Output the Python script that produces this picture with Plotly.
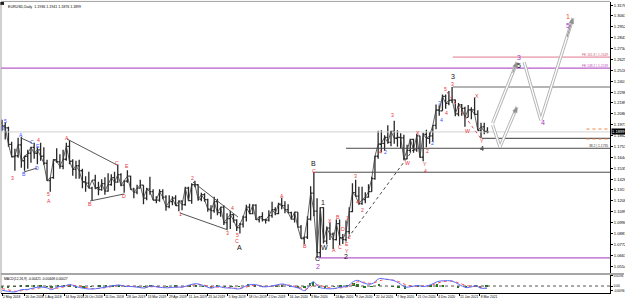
import numpy as np
import pandas as pd
import plotly.graph_objects as go

START = "2018-05-02"
FONT = "Liberation Sans, Arial, sans-serif"

# ---------------- weekly EURUSD price data ----------------
wk_high = [
    1.2020, 1.1995, 1.1950, 1.1800, 1.1730, 1.1840, 1.1850, 1.1660, 1.1720,
    1.1750, 1.1790, 1.1745, 1.1790,
    1.1745, 1.1620, 1.1440, 1.1625, 1.1735,
    1.1675, 1.1720, 1.1790, 1.1815,
    1.1625, 1.1610, 1.1620, 1.1530,
    1.1455, 1.1500, 1.1350, 1.1470, 1.1400,
    1.1425, 1.1445, 1.1485, 1.1475,
    # 2019
    1.1500, 1.1570, 1.1485, 1.1415,
    1.1515, 1.1460, 1.1340, 1.1370,
    1.1420, 1.1365, 1.1340, 1.1450, 1.1325,
    1.1255, 1.1325, 1.1325, 1.1265,
    1.1265, 1.1255, 1.1265, 1.1215, 1.1215,
    1.1350, 1.1350, 1.1385, 1.1410,
    1.1375, 1.1290, 1.1285, 1.1230,
    1.1165, 1.1250, 1.1230, 1.1150, 1.1165,
    1.1085, 1.1110, 1.1075, 1.1025,
    1.0985, 1.1060, 1.1170, 1.1180,
    1.1175, 1.1175, 1.1050, 1.1095, 1.1030,
    1.1115, 1.1200, 1.1145, 1.1190,
    # 2020
    1.1240, 1.1205, 1.1175, 1.1100, 1.1100,
    1.1095, 1.0965, 1.0850, 1.1055,
    1.1355, 1.1495, 1.1235, 1.1145,
    1.1145, 1.0950, 1.0990, 1.0890,
    1.1020, 1.1020, 1.0875, 1.1010, 1.1145,
    1.1385, 1.1420, 1.1350, 1.1350,
    1.1295, 1.1375, 1.1450, 1.1660, 1.1910,
    1.1915, 1.1865, 1.1965, 1.1910,
    1.2010, 1.1915, 1.1885, 1.1870,
    1.1770, 1.1830, 1.1830, 1.1880, 1.1860,
    1.1890, 1.1920, 1.1895, 1.1965,
    1.2175, 1.2165, 1.2275, 1.2275,
    # 2021
    1.2310, 1.2350, 1.2225, 1.2190, 1.2180,
    1.2150, 1.2170, 1.2145, 1.2245,
    1.2115, 1.1990, 1.1990, 1.1945,
]
wk_low = [
    1.1910, 1.1823, 1.1750, 1.1645, 1.1510, 1.1640, 1.1540, 1.1510, 1.1530,
    1.1590, 1.1630, 1.1575, 1.1610,
    1.1570, 1.1410, 1.1300, 1.1430, 1.1590,
    1.1530, 1.1525, 1.1610, 1.1575,
    1.1460, 1.1430, 1.1430, 1.1335,
    1.1300, 1.1335, 1.1215, 1.1325, 1.1265,
    1.1310, 1.1270, 1.1300, 1.1360,
    # 2019
    1.1310, 1.1390, 1.1355, 1.1290,
    1.1390, 1.1320, 1.1235, 1.1275,
    1.1335, 1.1175, 1.1215, 1.1270, 1.1215,
    1.1185, 1.1200, 1.1225, 1.1110,
    1.1135, 1.1165, 1.1160, 1.1105, 1.1115,
    1.1160, 1.1205, 1.1180, 1.1345,
    1.1210, 1.1205, 1.1200, 1.1100,
    1.1025, 1.1090, 1.1065, 1.1050, 1.0965,
    1.0925, 1.0925, 1.0990, 1.0905,
    1.0880, 1.0940, 1.1000, 1.1075,
    1.1075, 1.1015, 1.0990, 1.1000, 1.0980,
    1.1000, 1.1040, 1.1065, 1.1075,
    # 2020
    1.1125, 1.1085, 1.1085, 1.1020, 1.0990,
    1.0940, 1.0830, 1.0775, 1.0825,
    1.1010, 1.1055, 1.0635, 1.0635,
    1.0780, 1.0770, 1.0815, 1.0725,
    1.0810, 1.0765, 1.0775, 1.0800, 1.0870,
    1.1095, 1.1250, 1.1170, 1.1170,
    1.1185, 1.1240, 1.1300, 1.1420, 1.1630,
    1.1695, 1.1710, 1.1780, 1.1755,
    1.1780, 1.1750, 1.1735, 1.1615,
    1.1625, 1.1690, 1.1690, 1.1700, 1.1640,
    1.1605, 1.1745, 1.1780, 1.1800,
    1.1925, 1.2060, 1.2110, 1.2130,
    # 2021
    1.2165, 1.2190, 1.2055, 1.2055, 1.2060,
    1.1950, 1.2045, 1.2025, 1.2070,
    1.1915, 1.1835, 1.1875, 1.1885,
]
wk_close = [
    1.1960, 1.1940, 1.1775, 1.1650, 1.1660, 1.1770, 1.1610, 1.1655, 1.1685,
    1.1745, 1.1685, 1.1720, 1.1655,
    1.1585, 1.1410, 1.1440, 1.1620, 1.1600,
    1.1555, 1.1625, 1.1755, 1.1605,
    1.1525, 1.1560, 1.1510, 1.1400,
    1.1385, 1.1335, 1.1415, 1.1340, 1.1320,
    1.1380, 1.1305, 1.1370, 1.1440,
    # 2019
    1.1395, 1.1470, 1.1365, 1.1405,
    1.1455, 1.1325, 1.1295, 1.1335,
    1.1365, 1.1235, 1.1325, 1.1300, 1.1215,
    1.1215, 1.1300, 1.1245, 1.1150,
    1.1200, 1.1235, 1.1160, 1.1205, 1.1170,
    1.1335, 1.1210, 1.1370, 1.1370,
    1.1225, 1.1270, 1.1220, 1.1125,
    1.1110, 1.1200, 1.1090, 1.1145, 1.0990,
    1.1030, 1.1070, 1.1015, 1.0940,
    1.0975, 1.1045, 1.1145, 1.1080,
    1.1165, 1.1020, 1.1050, 1.1020, 1.1015,
    1.1060, 1.1120, 1.1080, 1.1175,
    # 2020
    1.1160, 1.1120, 1.1090, 1.1025, 1.1095,
    1.0945, 1.0830, 1.0845, 1.1025,
    1.1285, 1.1105, 1.0690, 1.1140,
    1.0805, 1.0935, 1.0875, 1.0820,
    1.0980, 1.0840, 1.0820, 1.0900, 1.1100,
    1.1290, 1.1255, 1.1180, 1.1220,
    1.1245, 1.1300, 1.1430, 1.1655, 1.1775,
    1.1785, 1.1845, 1.1795, 1.1905,
    1.1835, 1.1845, 1.1840, 1.1630,
    1.1715, 1.1825, 1.1720, 1.1860, 1.1645,
    1.1875, 1.1835, 1.1860, 1.1965,
    1.2120, 1.2110, 1.2255, 1.2185,
    # 2021
    1.2215, 1.2220, 1.2080, 1.2170, 1.2135,
    1.2045, 1.2120, 1.2120, 1.2075,
    1.1915, 1.1950, 1.1905, 1.1899,
]
wk_first_open = 1.1990

# ---------------- MACD(12,26,9) readings ----------------
macd_dates = [
    "2018-05-02", "2018-05-16", "2018-05-30", "2018-06-13", "2018-06-27", "2018-07-11",
    "2018-07-25", "2018-08-08", "2018-08-17", "2018-08-31", "2018-09-14", "2018-09-26",
    "2018-10-10", "2018-10-26", "2018-11-13", "2018-11-30", "2018-12-14", "2018-12-31",
    "2019-01-11", "2019-01-25", "2019-02-08", "2019-02-22", "2019-03-08", "2019-03-21",
    "2019-04-05", "2019-04-26", "2019-05-15", "2019-05-30", "2019-06-14", "2019-06-28",
    "2019-07-15", "2019-07-31", "2019-08-14", "2019-08-30", "2019-09-13", "2019-10-01",
    "2019-10-21", "2019-11-05", "2019-11-20", "2019-12-04", "2019-12-20",
    "2020-01-02", "2020-01-20", "2020-02-06", "2020-02-20", "2020-03-03", "2020-03-10",
    "2020-03-23", "2020-04-06", "2020-04-24", "2020-05-08", "2020-05-22", "2020-06-05",
    "2020-06-15", "2020-06-30", "2020-07-15", "2020-07-31", "2020-08-14", "2020-08-31",
    "2020-09-11", "2020-09-25", "2020-10-09", "2020-10-23", "2020-11-04", "2020-11-20",
    "2020-12-04", "2020-12-17",
    "2021-01-06", "2021-01-20", "2021-02-05", "2021-02-19", "2021-02-26", "2021-03-09",
    "2021-03-23",
]
macd_main = [
    -0.0080, -0.0105, -0.0115, -0.0070, -0.0065, -0.0035, -0.0020, -0.0035, -0.0070,
    -0.0015, -0.0005, 0.0030, -0.0010, -0.0045, -0.0060, -0.0040, -0.0020, 0.0005,
    0.0020, -0.0005, -0.0010, -0.0025, -0.0040, 0.0000, -0.0020, -0.0035, -0.0020,
    -0.0020, 0.0020, 0.0045, 0.0010, -0.0040, -0.0010, -0.0035, -0.0040, -0.0055,
    0.0020, 0.0030, -0.0015, -0.0010, 0.0020,
    0.0040, 0.0000, -0.0040, -0.0090, 0.0020, 0.0085, -0.0020, -0.0050, -0.0050,
    -0.0020, -0.0005, 0.0090, 0.0110, 0.0050, 0.0040, 0.0145, 0.0130, 0.0110,
    0.0060, -0.0020, -0.0010, 0.0010, -0.0010, 0.0025, 0.0085, 0.0100,
    0.0095, 0.0035, -0.0030, -0.0010, 0.0010, -0.0040, -0.0042,
]
macd_signal = [
    -0.0050, -0.0075, -0.0100, -0.0090, -0.0070, -0.0055, -0.0035, -0.0030, -0.0045,
    -0.0040, -0.0015, 0.0010, 0.0010, -0.0020, -0.0050, -0.0045, -0.0030, -0.0005,
    0.0010, 0.0005, -0.0005, -0.0020, -0.0030, -0.0015, -0.0015, -0.0025, -0.0025,
    -0.0020, 0.0005, 0.0030, 0.0020, -0.0015, -0.0020, -0.0025, -0.0035, -0.0045,
    -0.0010, 0.0020, 0.0000, -0.0010, 0.0005,
    0.0025, 0.0015, -0.0020, -0.0060, -0.0030, 0.0010, 0.0020, -0.0020, -0.0045,
    -0.0035, -0.0015, 0.0040, 0.0080, 0.0070, 0.0050, 0.0100, 0.0130, 0.0115,
    0.0085, 0.0030, 0.0000, 0.0000, 0.0000, 0.0010, 0.0055, 0.0085,
    0.0095, 0.0060, 0.0010, -0.0010, -0.0005, -0.0020, -0.0045,
]
macd_hist = [
    -0.0030, -0.0030, -0.0015, 0.0020, 0.0005, 0.0020, 0.0015, -0.0005, -0.0025,
    0.0025, 0.0010, 0.0020, -0.0020, -0.0025, -0.0010, 0.0005, 0.0010, 0.0010,
    0.0010, -0.0010, -0.0005, -0.0005, -0.0010, 0.0015, -0.0005, -0.0010, 0.0005,
    0.0000, 0.0015, 0.0015, -0.0010, -0.0025, 0.0010, -0.0010, -0.0005, -0.0010,
    0.0030, 0.0010, -0.0015, 0.0000, 0.0015,
    0.0015, -0.0015, -0.0020, -0.0030, 0.0050, 0.0075, -0.0040, -0.0030, -0.0005,
    0.0015, 0.0010, 0.0050, 0.0030, -0.0020, -0.0010, 0.0045, 0.0000, -0.0005,
    -0.0025, -0.0050, -0.0010, 0.0010, -0.0010, 0.0015, 0.0030, 0.0015,
    0.0000, -0.0025, -0.0040, 0.0000, 0.0015, -0.0020, 0.0003,
]

# ---------------- axis labels ----------------
date_ticks = [
    "2018-05-02", "2018-06-20", "2018-08-01", "2018-09-14", "2018-10-26", "2018-12-11",
    "2019-01-28", "2019-03-13", "2019-04-29", "2019-06-11", "2019-07-23", "2019-09-05",
    "2019-10-18", "2019-12-02", "2020-01-16", "2020-03-03", "2020-04-24", "2020-06-09",
    "2020-07-22", "2020-09-07", "2020-10-21", "2020-12-04", "2021-01-21", "2021-03-08",
]
price_ticks = [1.3170, 1.3061, 1.2952, 1.2843, 1.2734, 1.2625, 1.2516, 1.2407, 1.2298,
               1.2189, 1.2080, 1.1971, 1.1862, 1.1753, 1.1644, 1.1535, 1.1426, 1.1317,
               1.1208, 1.1099, 1.0990, 1.0881, 1.0772, 1.0663, 1.0554]
macd_ticks = [0.0194, 0.0, -0.0096]
macd_tick_text = ["0.0194", "0.00", "-0.0096"]
current_price = 1.1899
title_text = "EURUSD,Daily  1.1936 1.1941 1.1876 1.1899"
macd_text = "MACD(12,26,9) -0.00421 -0.00448 0.00027"

# ---------------- wave labels (bar index, price) ----------------
red_text = ["3", "4", "5", "A", "A", "B", "C", "D", "E", "1", "2", "3", "4", "5", "C",
            "A", "B", "C", "X", "B", "A", "C", "D", "E", "Y", "1", "2", "3", "4", "2",
            "4", "3", "W", "X", "Y", "4", "2", "4", "5", "3", "X", "W", "Y"]
red_bar = [17, 56, 71.5, 73, 101, 137, 179, 190, 194, 277, 297, 350, 358, 366, 366,
           435, 471, 484.5, 510, 522.5, 516, 526, 530, 536, 536, 538, 541, 550.5, 553, 560,
           588, 607, 630, 647, 658, 658, 662.5, 692, 689, 701, 738.7, 724.7, 746.5]
red_price = [1.1437, 1.1818, 1.1277, 1.1207, 1.1838, 1.1177, 1.1587, 1.1257, 1.1557, 1.1076,
             1.1437, 1.0886, 1.1137, 1.0861, 1.0801,
             1.1257, 1.0756, 1.1505, 1.1006, 1.1046, 1.0712, 1.0742, 1.0926, 1.0772, 1.0702,
             1.1036, 1.0846, 1.1457, 1.1195, 1.1117,
             1.1698, 1.2068, 1.1588, 1.1889, 1.1582, 1.1512, 1.1708, 1.2088, 1.2329, 1.2379,
             1.2259, 1.1908, 1.1808]

blue_text = ["5", "3", "A", "B", "C", "D", "E", "2", "3", "4", "2"]
blue_bar = [4.7, 1.6, 29.5, 34, 46.7, 54.4, 56, 597, 681, 683, 670]
blue_price = [1.2008, 1.1938, 1.1868, 1.1477, 1.1798, 1.1537, 1.1760, 1.1698, 1.2189, 1.2018, 1.1788]

black_text = ["A", "B", "C", "1", "W", "2", "3", "4", "5"]
black_bar = [370, 483.7, 491.4, 499, 502, 535, 701, 746.5, 804]
black_price = [1.0736, 1.1580, 1.0626, 1.1187, 1.0736, 1.0646, 1.2452, 1.1732, 1.2569]

purple_text = ["2", "3", "4", "5"]
purple_bar = [491.4, 804, 841, 880]
purple_price = [1.0550, 1.2645, 1.1998, 1.2970]

orange_text = ["1"]
orange_bar = [880]
orange_price = [1.3055]

# ---------------- trend lines (bar pairs, price pairs) ----------------
trend_bars = [[29.5, 46.7], [34, 54.4], [101, 179], [137, 190], [297, 367], [277, 351.5]]
trend_prices = [[1.1838, 1.1788], [1.1497, 1.1537], [1.1828, 1.1567], [1.1207, 1.1277],
                [1.1397, 1.1046], [1.1086, 1.0916]]
dot_black_bars = [538, 639]
dot_black_prices = [1.0836, 1.1718]
dot_red_bars = [692, 746.5]
dot_red_prices = [1.2299, 1.1818]

# ---------------- horizontal levels ----------------
XMIN, XMAX = -1.6, 945.6
lvl_price = [1.2539, 1.2649, 1.2349, current_price, 1.1835, 1.1735, 1.1495, 1.0636]
lvl_start = [XMIN, 701, 701, XMIN, 746.5, 535, 483.7, 491.4]
lvl_color = ["#b85ccc", "#e0788e", "#6a6a6a", "#d2d2d2", "#3a3a3a", "#4a4a4a", "#4a4a4a", "#b85ccc"]
lvl_width = [1.2, 1, 1, 1, 1, 1, 1, 1.2]
fib_text = ["FE 161.8 | 1.2649", "FE 138.2 | 1.2539", "38.2 | 1.1735"]
fib_price = [1.2649, 1.2539, 1.1735]
fib_color = ["#d0607a", "#c050b8", "#333333"]
alert_price = [1.1928, 1.1828]
alert_start = 909

# ---------------- projected path (bar, price) ----------------
proj_bars = [[763, 801], [812, 838, 888], [763, 774.5, 801]]
proj_prices = [[1.1988, 1.2599], [1.2599, 1.2018, 1.3040], [1.1968, 1.1748, 1.2149]]


def bars(dates):
    d = pd.to_datetime(pd.Series(list(dates))).values.astype("datetime64[D]")
    return np.busday_count(np.datetime64(START, "D"), d)


week_end = pd.date_range("2018-05-04", periods=len(wk_close), freq="W-FRI")
wk_x = np.maximum(bars(week_end) - 2, 0)
wk_open = [wk_first_open] + wk_close[:-1]
macd_x = bars(macd_dates)
tick_x = bars(date_ticks)
tick_text = [f"{d.day} {d.strftime('%b %Y')}" for d in pd.to_datetime(date_ticks)]

fig = go.Figure()

# levels
for p, s, c, w in zip(lvl_price, lvl_start, lvl_color, lvl_width):
    fig.add_trace(go.Scatter(x=[s, XMAX], y=[p, p], mode="lines",
                             line=dict(color=c, width=w), hoverinfo="skip"))
for p in alert_price:
    fig.add_trace(go.Scatter(x=[alert_start, XMAX], y=[p, p], mode="lines",
                             line=dict(color="#f08040", width=1, dash="dot"), hoverinfo="skip"))

# trend lines
for bx, py in zip(trend_bars, trend_prices):
    fig.add_trace(go.Scatter(x=bx, y=py, mode="lines", line=dict(color="#555555", width=1),
                             hoverinfo="skip"))
fig.add_trace(go.Scatter(x=dot_black_bars, y=dot_black_prices, mode="lines",
                         line=dict(color="#444444", width=1, dash="dot"), hoverinfo="skip"))
fig.add_trace(go.Scatter(x=dot_red_bars, y=dot_red_prices, mode="lines",
                         line=dict(color="#e05050", width=1, dash="dot"), hoverinfo="skip"))

# price bars
fig.add_trace(go.Ohlc(x=wk_x, open=wk_open, high=wk_high, low=wk_low, close=wk_close,
                      increasing=dict(line=dict(color="#262626", width=1.3)),
                      decreasing=dict(line=dict(color="#262626", width=1.3)),
                      tickwidth=0.45, hoverinfo="skip"))
fig.add_trace(go.Scatter(x=wk_x, y=wk_close, mode="lines",
                         line=dict(color="#3a3a3a", width=0.8), hoverinfo="skip"))

# projected paths (hollow grey arrows)
for bx, py in zip(proj_bars, proj_prices):
    fig.add_trace(go.Scatter(x=bx, y=py, mode="lines", line=dict(color="#b4b4b4", width=3.2),
                             hoverinfo="skip"))
    fig.add_trace(go.Scatter(x=bx, y=py, mode="lines", line=dict(color="#ffffff", width=1.3),
                             hoverinfo="skip"))
    x0, x1, y0, y1 = bx[-2], bx[-1], py[-2], py[-1]
    fig.add_annotation(x=x1, y=y1, ax=x0 + 0.8 * (x1 - x0), ay=y0 + 0.8 * (y1 - y0),
                       xref="x", yref="y", axref="x", ayref="y", text="", showarrow=True,
                       arrowhead=2, arrowsize=1.1, arrowwidth=1, arrowcolor="#909090")

# MACD panel
fig.add_trace(go.Scatter(x=[XMIN, XMAX], y=[0, 0], yaxis="y2", mode="lines",
                         line=dict(color="#555555", width=1, dash="dot"), hoverinfo="skip"))
fig.add_trace(go.Bar(x=macd_x, y=macd_hist, yaxis="y2", width=3, marker_color="#1f7a1f",
                     marker_line_width=0, hoverinfo="skip"))
fig.add_trace(go.Scatter(x=macd_x, y=macd_signal, yaxis="y2", mode="lines",
                         line=dict(color="#ff5050", width=1, dash="dot", shape="spline"),
                         hoverinfo="skip"))
fig.add_trace(go.Scatter(x=macd_x, y=macd_main, yaxis="y2", mode="lines",
                         line=dict(color="#5a6cff", width=1, shape="spline"), hoverinfo="skip"))

# wave labels
groups = [
    (red_text, red_bar, red_price, "#e8353a", 5.2),
    (blue_text, blue_bar, blue_price, "#3a55ff", 5.2),
    (black_text, black_bar, black_price, "#111111", 7),
    (purple_text, purple_bar, purple_price, "#a03cc0", 7),
    (orange_text, orange_bar, orange_price, "#f05a1e", 7),
]
for texts, bxs, pys, col, size in groups:
    for t, bx, py in zip(texts, bxs, pys):
        fig.add_annotation(x=bx, y=py, xref="x", yref="y", text=t, showarrow=False,
                           borderpad=0, font=dict(family=FONT, size=size, color=col))

for t, p, c in zip(fib_text, fib_price, fib_color):
    fig.add_annotation(x=XMAX, y=p, xref="x", yref="y", text=t, showarrow=False,
                       xanchor="right", yanchor="bottom", xshift=-1, yshift=-1, borderpad=0,
                       font=dict(family=FONT, size=3.3, color=c))

fig.add_annotation(x=1, y=current_price, xref="paper", yref="y", text=f"{current_price:.4f}",
                   showarrow=False, xanchor="left", xshift=1, bgcolor="#000000", borderpad=0,
                   font=dict(family=FONT, size=4.1, color="#ffffff"))
fig.add_annotation(x=0, y=1, xref="paper", yref="paper", text=title_text, showarrow=False,
                   xanchor="left", yanchor="top", xshift=5, yshift=-1,
                   font=dict(family=FONT, size=3.6, color="#000000"))
fig.add_annotation(x=0, y=0.048, xref="paper", yref="paper", text=macd_text, showarrow=False,
                   xanchor="left", yanchor="middle", xshift=1,
                   font=dict(family=FONT, size=3.3, color="#000000"))

# frame / separators
fig.add_shape(type="rect", xref="paper", yref="paper", x0=0, x1=1.023, y0=0.0619, y1=0.0687,
              fillcolor="#a6a6a6", line_width=0)
fig.add_shape(type="line", xref="paper", yref="paper", x0=0, x1=1, y0=1.002, y1=1.002,
              line=dict(color="#a0a0a0", width=1))
fig.add_shape(type="line", xref="paper", yref="paper", x0=0, x1=0, y0=0, y1=1,
              line=dict(color="#a0a0a0", width=1))
fig.add_shape(type="rect", xref="paper", yref="paper", x0=-0.001, x1=0.005, y0=0.99, y1=1.0,
              fillcolor="#222222", line_width=0)

axis_font = dict(family=FONT, size=4.1, color="#000000")
fig.update_layout(
    width=625, height=301, autosize=False,
    margin=dict(l=1, r=15, t=2, b=8),
    paper_bgcolor="#ffffff", plot_bgcolor="#ffffff",
    showlegend=False, bargap=0,
    xaxis=dict(domain=[0, 1], range=[XMIN, XMAX], anchor="y2", showgrid=False, zeroline=False,
               tickmode="array", tickvals=tick_x, ticktext=tick_text, ticks="outside",
               ticklen=2, tickcolor="#000000", ticklabelposition="outside right",
               tickangle=0, automargin=False,
               tickfont=dict(family=FONT, size=3.3, color="#000000"),
               showline=True, linecolor="#000000", linewidth=1,
               rangeslider=dict(visible=False)),
    yaxis=dict(domain=[0.0687, 1], range=[1.0485, 1.3201], anchor="x", side="right",
               showgrid=False, zeroline=False, tickmode="array", tickvals=price_ticks,
               ticktext=[f"{v:.4f}" for v in price_ticks], ticks="outside", ticklen=2,
               tickcolor="#000000", tickfont=axis_font, showline=True, automargin=False,
               linecolor="#000000", linewidth=1),
    yaxis2=dict(domain=[0, 0.0619], range=[-0.0135, 0.0213], anchor="x", side="right",
                showgrid=False, zeroline=False, tickmode="array", tickvals=macd_ticks,
                ticktext=macd_tick_text, ticks="outside", ticklen=2, tickcolor="#000000",
                tickfont=dict(family=FONT, size=3.2, color="#000000"), showline=True,
                automargin=False, linecolor="#000000", linewidth=1),
)

fig.write_html("out.html")
